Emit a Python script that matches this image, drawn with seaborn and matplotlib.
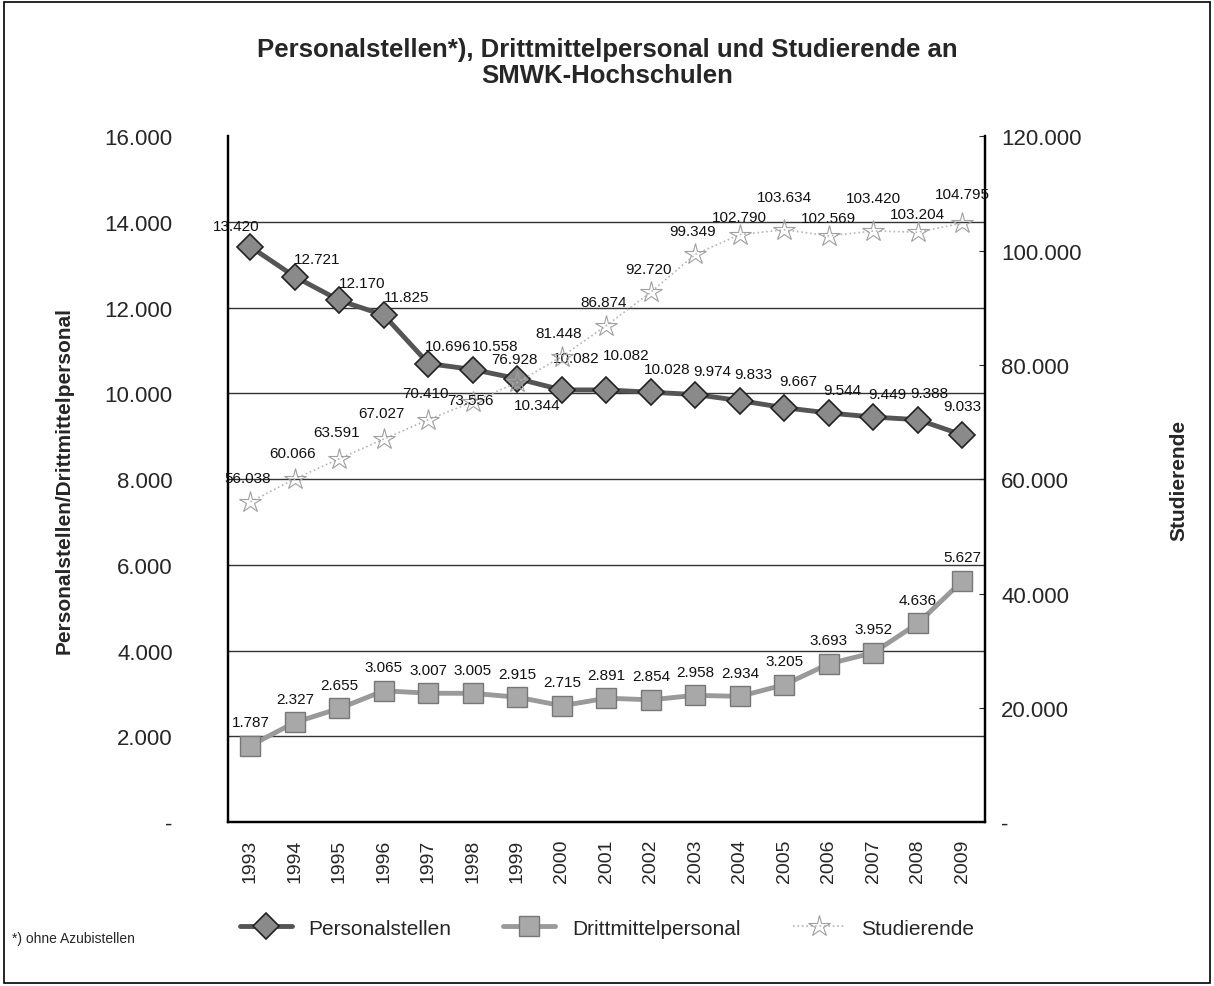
import pandas as pd
import seaborn as sns
import matplotlib.pyplot as plt
from matplotlib.ticker import FuncFormatter

years = [str(y) for y in range(1993, 2010)]
personalstellen = [13420, 12721, 12170, 11825, 10696, 10558, 10344, 10082, 10082,
                   10028, 9974, 9833, 9667, 9544, 9449, 9388, 9033]
drittmittel = [1787, 2327, 2655, 3065, 3007, 3005, 2915, 2715, 2891,
               2854, 2958, 2934, 3205, 3693, 3952, 4636, 5627]
studierende = [56038, 60066, 63591, 67027, 70410, 73556, 76928, 81448, 86874,
               92720, 99349, 102790, 103634, 102569, 103420, 103204, 104795]

df = pd.DataFrame({"pos": range(len(years)), "Jahr": years,
                   "Personalstellen": personalstellen,
                   "Drittmittelpersonal": drittmittel,
                   "Studierende": studierende})

sns.set_style("white")
plt.rcParams["font.family"] = ["Liberation Sans", "DejaVu Sans"]

fig = plt.figure(figsize=(12.14, 9.87), dpi=100)
ax = fig.add_axes([0.188, 0.166, 0.623, 0.695])
ax2 = ax.twinx()


def de_fmt(v, _):
    if abs(v) < 1e-9:
        return "-"
    return f"{v:,.0f}".replace(",", ".")


sns.lineplot(data=df, x="pos", y="Personalstellen", ax=ax, color="#555555",
             lw=3.5, marker="D", markersize=13, markerfacecolor="#8a8a8a",
             markeredgecolor="#222222", markeredgewidth=1.2, label="Personalstellen", legend=False)
sns.lineplot(data=df, x="pos", y="Drittmittelpersonal", ax=ax, color="#9a9a9a",
             lw=3.5, marker="s", markersize=14, markerfacecolor="#a8a8a8",
             markeredgecolor="#777777", markeredgewidth=1.0, label="Drittmittelpersonal", legend=False)
sns.lineplot(data=df, x="pos", y="Studierende", ax=ax2, color="#b5b5b5",
             lw=1.2, ls=":", marker="*", markersize=16, markerfacecolor="none",
             markeredgecolor="#a0a0a0", markeredgewidth=0.8, label="Studierende", legend=False)

ax.set_ylim(0, 16000)
ax2.set_ylim(0, 120000)
ax.set_xlim(-0.5, len(years) - 0.5)
ax.set_yticks(range(0, 16001, 2000))
ax2.set_yticks(range(0, 120001, 20000))
ax.yaxis.set_major_formatter(FuncFormatter(de_fmt))
ax2.yaxis.set_major_formatter(FuncFormatter(de_fmt))
ax.set_xticks(df["pos"])
ax.set_xticklabels(years, rotation=90, fontsize=14)
ax.tick_params(axis="y", labelsize=16, pad=40, length=0)
ax2.tick_params(axis="y", labelsize=16, pad=12, length=4, direction="in")
ax.tick_params(axis="x", length=0, pad=12)
ax.set_xlabel("")
ax.set_ylabel("Personalstellen/Drittmittelpersonal", fontsize=15, fontweight="bold", labelpad=22)
ax2.set_ylabel("Studierende", fontsize=15, fontweight="bold", labelpad=63)

for y in range(2000, 16000, 2000):
    ax.axhline(y, color="#333333", lw=1.0, zorder=0)

for a in (ax, ax2):
    a.spines["top"].set_visible(False)
    for s in ("left", "right", "bottom"):
        a.spines[s].set_color("black")
        a.spines[s].set_linewidth(1.6)

# Datenbeschriftungen
p_off = [(-10, 12), (16, 10), (16, 10), (16, 10), (14, 10), (16, 14), (14, -22),
         (10, 20), (14, 22), (12, 14), (12, 14), (10, 16), (10, 16), (10, 14),
         (10, 14), (8, 16), (0, 18)]
for i, v in enumerate(personalstellen):
    dx, dy = p_off[i]
    ax.annotate(de_fmt(v, None), (i, v), xytext=(dx, dy), textcoords="offset points",
                ha="center", fontsize=11, color="#111111")

for i, v in enumerate(drittmittel):
    ax.annotate(de_fmt(v, None), (i, v), xytext=(0, 14), textcoords="offset points",
                ha="center", fontsize=11, color="#111111")

s_off = [(-2, 14), (-2, 16), (-2, 16), (-2, 16), (-2, 16), (-2, -2), (-2, 14),
         (-2, 14), (-2, 14), (-2, 14), (-2, 14), (0, 10), (0, 21), (0, 10),
         (0, 21), (0, 10), (0, 18)]
for i, v in enumerate(studierende):
    dx, dy = s_off[i]
    ax2.annotate(de_fmt(v, None), (i, v), xytext=(dx, dy), textcoords="offset points",
                 ha="center", fontsize=11, color="#111111")

fig.text(0.5, 0.962, "Personalstellen*), Drittmittelpersonal und Studierende an\nSMWK-Hochschulen",
         ha="center", va="top", fontsize=18.5, fontweight="bold", linespacing=1.15)

h1, l1 = ax.get_legend_handles_labels()
h2, l2 = ax2.get_legend_handles_labels()
fig.legend(h1 + h2, l1 + l2, loc="lower center", bbox_to_anchor=(0.5, 0.03), ncol=3,
           frameon=False, fontsize=15, columnspacing=2.5, handlelength=2.5)
fig.text(0.01, 0.045, "*) ohne Azubistellen", fontsize=10)

fig.patches.append(plt.Rectangle((0.003, 0.003), 0.994, 0.994, transform=fig.transFigure,
                                 fill=False, edgecolor="black", lw=1.2))

fig.savefig("out.png", dpi=100)
